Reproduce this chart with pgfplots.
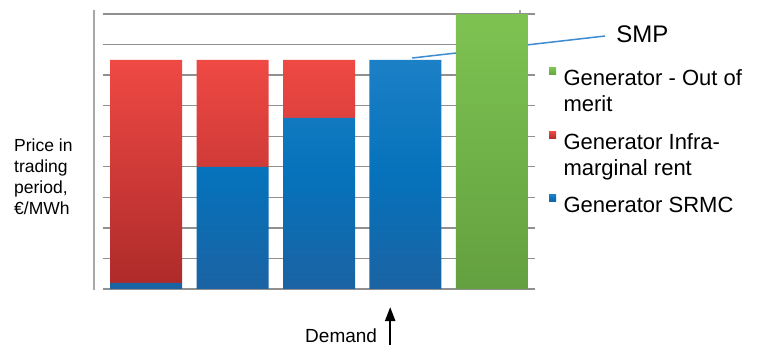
\documentclass[border=0pt]{standalone}
\usepackage{fontspec}
\setmainfont{Liberation Sans}
\usepackage{pgfplots}
\pgfplotsset{compat=1.18}
\usetikzlibrary{arrows.meta}
\definecolor{blueTop}{HTML}{1C80C6}
\definecolor{blueMid}{HTML}{0572BB}
\definecolor{blueBot}{HTML}{1B63A3}
\definecolor{redTop}{HTML}{EF4944}
\definecolor{redBot}{HTML}{AE2B2A}
\definecolor{greenTop}{HTML}{7DC352}
\definecolor{greenBot}{HTML}{64A03F}
\definecolor{gridgray}{HTML}{909090}
\definecolor{leftgray}{HTML}{A8A8A8}
\definecolor{smpblue}{HTML}{3D8BD0}
\begin{document}
\begin{tikzpicture}
\useasboundingbox (-103pt,-58pt) rectangle (656pt,289pt);
\begin{axis}[
  scale only axis, width=432pt, height=275pt,
  xmin=-0.5, xmax=4.5, ymin=0, ymax=9,
  ybar stacked, bar width=72pt,
  axis line style={draw=none},
  xtick=\empty, ytick={0,...,9}, yticklabels={}, major tick length=0pt,
  ymajorgrids, grid style={draw=gridgray, line width=1.4pt},
  clip=false,
  ylabel={Price in\\trading\\period,\\€/MWh},
  ylabel style={rotate=-90, at={(axis description cs:-0.206,0.409)}, anchor=west,
    align=left, inner sep=0pt, font=\fontsize{17.5}{21}\selectfont},
  reverse legend,
  legend image code/.code={\path[#1] (0pt,-7pt) rectangle (7pt,0pt);},
  legend style={at={(axis description cs:1.0324,0.804)}, anchor=north west,
    draw=none, fill=none, inner sep=0pt, outer sep=0pt, row sep=16pt, column sep=5.5pt,
    font=\fontsize{22}{26}\selectfont,
    cells={anchor=north west, align=left, inner sep=0pt}},
]
\addplot[draw=none, top color=blueTop, bottom color=blueBot, middle color=blueMid]
  coordinates {(0,0.2) (1,4.0) (2,5.6) (3,7.5)};
\addlegendentry{Generator SRMC}
\addplot[draw=none, top color=redTop, bottom color=redBot]
  coordinates {(0,7.3) (1,3.5) (2,1.9)};
\addlegendentry{Generator Infra-\\marginal rent}
\addplot[ybar, stack plots=false, bar shift=0pt, draw=none, top color=greenTop, bottom color=greenBot]
  coordinates {(4,9)};
\addlegendentry{Generator - Out of\\merit}
\draw[leftgray, line width=1.5pt] (axis cs:-0.602,-0.03) -- (axis cs:-0.602,9.13);
\draw[gridgray, opacity=0.8, line width=2pt] (axis cs:4.329,-0.03) -- (axis cs:4.329,9.13);
\draw[smpblue, line width=1.5pt] (axis cs:3.079,7.56) -- (axis cs:5.312,8.28);
\node[anchor=base west, font=\fontsize{24}{28}\selectfont, inner sep=0pt] at (axis cs:5.44,8.08) {SMP};
\draw[line width=2.2pt, -{Triangle[width=10pt,length=14pt]}] (axis cs:2.824,-1.83) -- (axis cs:2.824,-0.59);
\node[anchor=base east, font=\fontsize{19}{22}\selectfont, inner sep=0pt] at (axis cs:2.674,-1.767) {Demand};
\end{axis}
\end{tikzpicture}
\end{document}
